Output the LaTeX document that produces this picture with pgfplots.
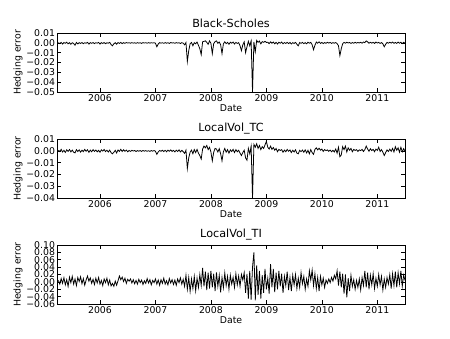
\documentclass[border=0pt]{standalone}
\usepackage{fontspec}
\setmainfont{DejaVu Sans}
\usepackage{pgfplots}
\usepackage{pgfplotstable}
\pgfplotsset{compat=1.18}

% hedging errors: Black-Scholes, LocalVol_TC, LocalVol_TI
\pgfplotstableread{
x bs tc ti
2005.250 0.0002 0.0005 0.004
2005.275 -0.0008 -0.0006 -0.006
2005.300 0.0004 0.0012 0.009
2005.325 -0.0012 -0.0010 -0.004
2005.350 0.0003 0.0004 0.011
2005.375 -0.0005 -0.0014 -0.008
2005.400 0.0006 0.0009 0.006
2005.425 -0.0010 -0.0005 -0.012
2005.450 0.0002 0.0011 0.013
2005.475 -0.0015 -0.0009 -0.002
2005.500 0.0001 0.0006 0.015
2005.525 -0.0007 -0.0012 -0.006
2005.550 -0.0025 -0.0018 0.008
2005.575 0.0004 0.0010 -0.010
2005.600 -0.0011 -0.0006 0.012
2005.625 0.0002 0.0008 0.001
2005.650 -0.0006 -0.0011 0.014
2005.675 0.0003 0.0005 -0.005
2005.700 -0.0009 -0.0007 0.009
2005.725 0.0001 0.0012 -0.009
2005.750 -0.0004 -0.0004 0.005
2005.775 0.0005 0.0009 0.016
2005.800 -0.0013 -0.0013 0.002
2005.825 0.0002 0.0006 0.011
2005.850 -0.0005 -0.0008 -0.004
2005.875 0.0003 0.0010 0.007
2005.900 -0.0008 -0.0005 -0.007
2005.925 0.0001 0.0007 0.010
2005.950 -0.0003 -0.0009 -0.003
2005.975 0.0004 0.0004 0.012
2006.000 -0.0012 -0.0012 -0.006
2006.025 0.0002 0.0008 0.004
2006.050 -0.0006 -0.0003 -0.010
2006.075 0.0003 0.0011 0.008
2006.100 -0.0009 -0.0007 -0.002
2006.125 0.0001 0.0005 0.010
2006.150 -0.0004 -0.0010 -0.008
2006.175 0.0005 0.0006 0.005
2006.200 -0.0018 -0.0016 -0.011
2006.225 -0.0030 -0.0025 -0.004
2006.250 -0.0010 -0.0012 -0.012
2006.275 0.0002 0.0004 0.002
2006.300 -0.0014 -0.0018 -0.009
2006.325 0.0003 0.0007 0.003
2006.350 -0.0006 -0.0005 0.016
2006.375 0.0004 0.0013 0.006
2006.400 -0.0008 -0.0006 0.013
2006.425 0.0002 0.0009 0.001
2006.450 -0.0005 -0.0004 0.010
2006.475 0.0003 0.0006 -0.004
2006.500 -0.0002 -0.0008 0.007
2006.525 0.0001 0.0003 0.002
2006.550 -0.0004 -0.0005 0.008
2006.575 0.0002 0.0004 -0.003
2006.600 -0.0003 -0.0002 0.006
2006.625 0.0001 0.0003 -0.005
2006.650 -0.0005 -0.0006 0.004
2006.675 0.0002 0.0002 -0.006
2006.700 -0.0003 -0.0004 0.007
2006.725 0.0001 0.0002 -0.002
2006.750 -0.0006 -0.0005 0.005
2006.775 0.0002 0.0003 -0.007
2006.800 -0.0002 -0.0003 0.003
2006.825 0.0001 0.0002 -0.004
2006.850 -0.0004 -0.0004 0.009
2006.875 0.0002 0.0001 -0.003
2006.900 -0.0003 -0.0005 0.006
2006.925 0.0001 0.0002 -0.008
2006.950 -0.0002 -0.0003 0.004
2006.975 0.0001 0.0002 -0.002
2007.000 -0.0004 -0.0004 0.008
2007.025 -0.0040 -0.0030 -0.006
2007.050 -0.0012 -0.0010 0.005
2007.075 0.0002 0.0003 -0.009
2007.100 -0.0003 -0.0004 0.006
2007.125 0.0001 0.0005 -0.004
2007.150 -0.0005 -0.0006 0.010
2007.175 0.0002 0.0004 -0.006
2007.200 -0.0004 -0.0008 0.003
2007.225 0.0001 0.0006 -0.008
2007.250 -0.0006 -0.0004 0.009
2007.275 0.0003 0.0007 -0.003
2007.300 -0.0002 -0.0005 0.006
2007.325 0.0001 0.0004 -0.007
2007.350 -0.0005 -0.0009 0.005
2007.375 0.0002 0.0005 -0.009
2007.400 -0.0003 -0.0006 0.008
2007.425 0.0001 0.0008 -0.002
2007.450 -0.0007 -0.0010 0.011
2007.475 0.0002 0.0004 -0.006
2007.500 -0.0004 -0.0007 0.007
2007.525 -0.0020 -0.0022 -0.012
2007.550 0.0003 0.0005 0.018
2007.575 -0.0190 -0.0150 -0.020
2007.600 -0.0080 -0.0060 0.012
2007.625 -0.0010 -0.0012 -0.026
2007.650 0.0004 0.0006 0.008
2007.675 -0.0030 -0.0025 -0.018
2007.700 0.0002 0.0010 0.015
2007.725 -0.0010 -0.0015 -0.024
2007.750 0.0008 0.0012 0.010
2007.775 -0.0025 -0.0020 -0.015
2007.800 -0.0060 -0.0040 0.020
2007.825 -0.0120 -0.0070 -0.010
2007.850 0.0010 0.0015 0.038
2007.875 0.0015 0.0040 -0.012
2007.900 0.0020 0.0025 0.028
2007.925 0.0005 0.0045 -0.022
2007.950 -0.0015 0.0010 0.025
2007.975 0.0020 0.0030 -0.018
2008.000 -0.0005 -0.0010 0.030
2008.025 -0.0110 -0.0085 -0.015
2008.050 -0.0008 -0.0012 0.022
2008.075 0.0012 0.0020 -0.025
2008.100 0.0020 0.0015 0.026
2008.125 -0.0005 -0.0010 -0.012
2008.150 0.0008 0.0018 0.018
2008.175 -0.0020 -0.0025 -0.028
2008.200 -0.0110 -0.0085 0.012
2008.225 -0.0010 -0.0008 -0.016
2008.250 0.0010 0.0020 0.024
2008.275 -0.0008 -0.0012 -0.010
2008.300 0.0005 0.0010 0.015
2008.325 -0.0015 -0.0020 -0.020
2008.350 0.0006 0.0008 0.018
2008.375 -0.0004 -0.0006 -0.006
2008.400 0.0008 0.0012 0.012
2008.425 -0.0012 -0.0015 -0.015
2008.450 0.0004 0.0010 0.022
2008.475 -0.0006 -0.0008 -0.008
2008.500 0.0002 0.0005 0.016
2008.525 -0.0030 -0.0020 -0.012
2008.550 -0.0080 -0.0040 0.020
2008.575 -0.0020 -0.0015 0.005
2008.600 0.0010 0.0005 0.025
2008.625 -0.0100 -0.0060 -0.030
2008.650 -0.0040 -0.0080 0.022
2008.675 0.0015 0.0020 -0.045
2008.700 -0.0030 -0.0025 0.030
2008.725 0.0020 0.0040 -0.048
2008.750 -0.0500 -0.0400 0.040
2008.775 0.0010 0.0055 0.080
2008.800 -0.0090 0.0030 -0.050
2008.825 0.0025 0.0060 0.045
2008.850 0.0005 0.0020 -0.035
2008.875 0.0018 0.0045 0.030
2008.900 -0.0010 0.0010 -0.045
2008.925 0.0012 0.0035 0.018
2008.950 0.0005 0.0020 -0.030
2008.975 0.0015 0.0050 0.035
2009.000 0.0004 0.0080 -0.020
2009.025 0.0006 0.0030 0.010
2009.050 -0.0008 0.0015 -0.032
2009.075 0.0010 0.0040 0.048
2009.100 -0.0004 0.0012 -0.015
2009.125 0.0008 0.0028 0.035
2009.150 -0.0010 0.0005 -0.028
2009.175 0.0005 0.0020 0.025
2009.200 -0.0012 -0.0008 -0.020
2009.225 0.0006 0.0012 0.030
2009.250 -0.0004 0.0003 -0.012
2009.275 0.0008 0.0010 0.022
2009.300 -0.0010 -0.0012 -0.030
2009.325 0.0003 0.0006 0.015
2009.350 -0.0006 -0.0008 -0.010
2009.375 0.0005 0.0012 0.028
2009.400 -0.0008 -0.0004 -0.022
2009.425 0.0004 0.0008 0.012
2009.450 -0.0012 -0.0015 -0.025
2009.475 0.0002 0.0005 0.018
2009.500 -0.0006 -0.0010 -0.008
2009.525 0.0005 0.0009 0.020
2009.550 -0.0015 -0.0020 -0.018
2009.575 -0.0030 -0.0025 0.010
2009.600 0.0003 0.0004 -0.015
2009.625 -0.0005 -0.0007 0.025
2009.650 0.0004 0.0006 -0.005
2009.675 -0.0008 -0.0012 0.015
2009.700 0.0002 0.0008 -0.020
2009.725 -0.0010 -0.0018 0.008
2009.750 0.0006 0.0004 -0.012
2009.775 -0.0004 -0.0026 0.030
2009.800 0.0005 0.0010 0.005
2009.825 -0.0020 -0.0015 0.032
2009.850 -0.0070 -0.0030 -0.010
2009.875 -0.0025 0.0012 0.022
2009.900 0.0008 0.0025 -0.018
2009.925 -0.0004 0.0008 0.012
2009.950 0.0010 0.0022 -0.025
2009.975 -0.0006 0.0005 0.015
2010.000 0.0004 0.0015 -0.008
2010.025 -0.0008 -0.0005 0.010
2010.050 0.0003 0.0010 -0.015
2010.075 -0.0005 0.0002 0.005
2010.100 0.0006 0.0008 -0.004
2010.125 -0.0003 -0.0004 0.008
2010.150 0.0004 0.0006 -0.002
2010.175 -0.0006 -0.0008 0.012
2010.200 0.0002 0.0004 0.002
2010.225 -0.0004 -0.0010 0.018
2010.250 0.0003 0.0015 0.008
2010.275 -0.0008 -0.0020 0.030
2010.300 -0.0030 0.0030 -0.010
2010.325 -0.0130 -0.0050 0.028
2010.350 -0.0060 -0.0035 -0.015
2010.375 -0.0010 0.0035 0.022
2010.400 0.0005 0.0010 -0.032
2010.425 -0.0004 0.0040 0.020
2010.450 0.0006 -0.0010 -0.042
2010.475 -0.0002 0.0025 0.010
2010.500 0.0004 0.0005 -0.025
2010.525 -0.0006 0.0020 0.018
2010.550 0.0003 -0.0008 -0.012
2010.575 -0.0004 0.0012 0.006
2010.600 0.0005 0.0003 -0.020
2010.625 -0.0003 0.0010 0.004
2010.650 0.0004 -0.0005 -0.015
2010.675 -0.0002 0.0008 0.008
2010.700 0.0006 0.0002 -0.022
2010.725 -0.0004 0.0012 0.012
2010.750 0.0008 -0.0006 -0.010
2010.775 0.0002 0.0010 0.030
2010.800 0.0020 0.0040 -0.015
2010.825 0.0010 0.0015 0.025
2010.850 -0.0004 -0.0004 -0.020
2010.875 0.0006 0.0018 0.018
2010.900 -0.0003 0.0002 -0.008
2010.925 0.0005 0.0012 0.022
2010.950 -0.0006 -0.0008 -0.018
2010.975 0.0008 0.0015 0.010
2011.000 -0.0002 0.0003 -0.012
2011.025 0.0004 0.0030 0.020
2011.050 -0.0006 -0.0006 -0.008
2011.075 0.0003 0.0010 0.015
2011.100 -0.0010 -0.0012 -0.022
2011.125 -0.0040 -0.0040 0.008
2011.150 -0.0015 -0.0015 -0.015
2011.175 0.0005 0.0008 0.012
2011.200 -0.0004 -0.0006 -0.006
2011.225 0.0006 0.0014 0.020
2011.250 -0.0003 -0.0004 -0.018
2011.275 0.0008 0.0020 0.022
2011.300 -0.0005 -0.0010 -0.010
2011.325 0.0004 0.0035 0.028
2011.350 -0.0006 0.0005 -0.015
2011.375 0.0007 0.0025 0.025
2011.400 -0.0004 -0.0012 -0.005
2011.425 0.0006 0.0030 0.030
2011.450 -0.0008 -0.0008 -0.012
2011.475 0.0005 0.0018 0.018
2011.500 -0.0003 -0.0005 0.004
}\hedge

\pgfplotsset{
  hedge/.style={
    scale only axis,
    width=15.716cm, height=2.664cm,
    anchor=north west,
    xmin=2005.225, xmax=2011.5,
    xtick={2006,2007,2008,2009,2010,2011},
    xticklabels={2006,2007,2008,2009,2010,2011},
    scaled y ticks=false, scaled x ticks=false,
    xlabel={Date}, ylabel={Hedging error},
    tick align=inside, major tick length=0.18cm,
    axis line style={line width=1pt},
    tick style={black, line width=0.7pt},
    title style={font=\fontsize{14.4}{17}\selectfont, yshift=-3pt},
    xlabel style={yshift=3pt},
    ylabel style={yshift=-2pt},
    yticklabel style={xshift=1pt},
  },
}

\begin{document}
\begin{tikzpicture}[font=\fontsize{12}{14}\selectfont]
\path (0,0) rectangle (20.32cm,-15.264cm);

\begin{axis}[hedge, at={(2.574cm,-1.490cm)}, title={Black-Scholes},
  ymin=-0.05, ymax=0.01,
  ytick={-0.05,-0.04,-0.03,-0.02,-0.01,0,0.01},
  yticklabels={−0.05,−0.04,−0.03,−0.02,−0.01,0.00,0.01}]
\addplot[black, line width=1pt] table[x=x, y=bs] {\hedge};
\end{axis}

\begin{axis}[hedge, at={(2.574cm,-6.277cm)}, title={LocalVol\_TC},
  ymin=-0.04, ymax=0.01,
  ytick={-0.04,-0.03,-0.02,-0.01,0,0.01},
  yticklabels={−0.04,−0.03,−0.02,−0.01,0.00,0.01}]
\addplot[black, line width=1pt] table[x=x, y=tc] {\hedge};
\end{axis}

\begin{axis}[hedge, at={(2.574cm,-11.064cm)}, title={LocalVol\_TI},
  ymin=-0.06, ymax=0.10,
  ytick={-0.06,-0.04,-0.02,0,0.02,0.04,0.06,0.08,0.10},
  yticklabels={−0.06,−0.04,−0.02,0.00,0.02,0.04,0.06,0.08,0.10}]
\addplot[black, line width=1pt] table[x=x, y=ti] {\hedge};
\end{axis}
\end{tikzpicture}
\end{document}
